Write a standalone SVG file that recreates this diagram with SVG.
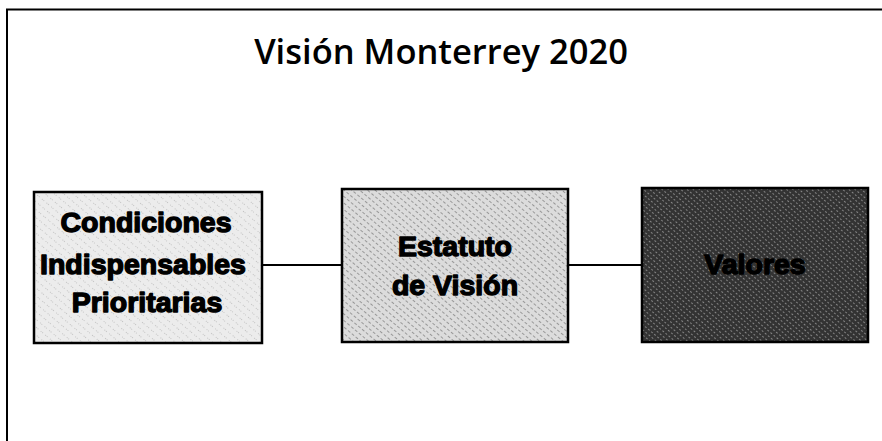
<svg xmlns="http://www.w3.org/2000/svg" width="882" height="441" viewBox="0 0 882 441">
<style>
.box{stroke:#000;stroke-width:2.5}
.lbl{font-family:"Liberation Sans",Arial,sans-serif;font-weight:bold;font-size:28.5px;text-anchor:middle;fill:#000;stroke:#000;stroke-width:1.4;stroke-linejoin:round}
.conn{stroke:#000;stroke-width:2;fill:none}
.title{font-family:"Open Sans","Noto Sans",sans-serif;font-weight:600;font-size:34.5px;text-anchor:middle;fill:#000}
</style>
<defs>
<pattern id="p1" width="6" height="6" patternUnits="userSpaceOnUse" patternTransform="rotate(-50)">
<rect width="6" height="6" fill="#ececec"/>
<line x1="0" y1="0" x2="0" y2="6" stroke="#9a9a9a" stroke-width="1" stroke-dasharray="1 3"/>
</pattern>
<pattern id="p2" width="5" height="5" patternUnits="userSpaceOnUse" patternTransform="rotate(-50)">
<rect width="5" height="5" fill="#dcdcdc"/>
<line x1="0" y1="0" x2="0" y2="5" stroke="#6a6a6a" stroke-width="1.2" stroke-dasharray="2 2"/>
</pattern>
<pattern id="p3" width="4" height="4" patternUnits="userSpaceOnUse" patternTransform="rotate(-50)">
<rect width="4" height="4" fill="#333"/>
<line x1="0" y1="0" x2="0" y2="4" stroke="#bdbdbd" stroke-width="1.2" stroke-dasharray="2 2"/>
</pattern>
</defs>
<rect width="882" height="441" fill="#fff"/>
<g id="frame">
<path d="M7 441 V9.5 H882" fill="none" stroke="#000" stroke-width="2"/>
</g>
<g id="title"><text class="title" x="441" y="64">Visión Monterrey 2020</text></g>
<g id="connectors">
<line class="conn" x1="262" y1="265" x2="342" y2="265"/>
<line class="conn" x1="568" y1="265" x2="642" y2="265"/>
</g>
<g id="node-condiciones">
<rect class="box" x="34" y="192" width="228" height="151" fill="url(#p1)"/>
<text class="lbl" x="146" y="232">Condiciones</text>
<text class="lbl" x="143" y="274">Indispensables</text>
<text class="lbl" x="147" y="312">Prioritarias</text>
</g>
<g id="node-estatuto">
<rect class="box" x="342" y="189" width="226" height="153" fill="url(#p2)"/>
<text class="lbl" x="455" y="256">Estatuto</text>
<text class="lbl" x="455" y="295">de Visión</text>
</g>
<g id="node-valores">
<rect class="box" x="642" y="188" width="226" height="154" fill="url(#p3)"/>
<text class="lbl" x="755" y="274">Valores</text>
</g>
</svg>
